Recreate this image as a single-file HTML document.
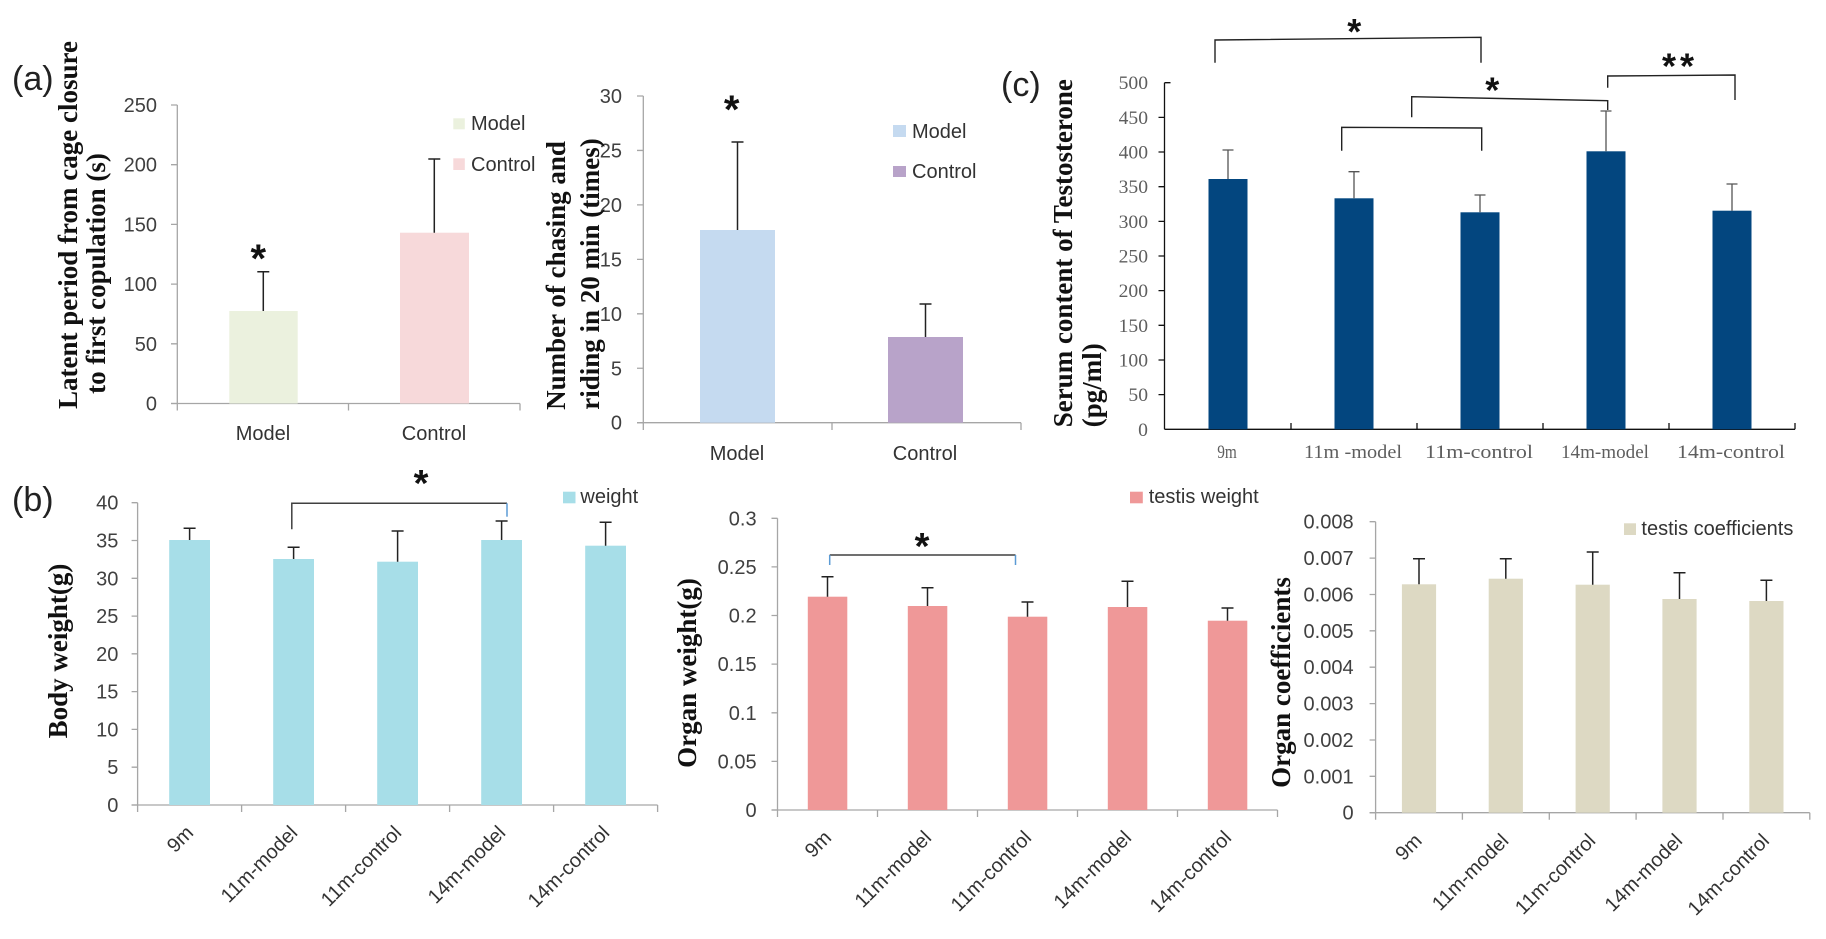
<!DOCTYPE html>
<html><head><meta charset="utf-8"><style>html,body{margin:0;padding:0;background:#fff;}svg{display:block;}</style></head>
<body>
<svg width="1826" height="939" viewBox="0 0 1826 939" xmlns="http://www.w3.org/2000/svg" font-family="Liberation Sans, sans-serif">
<rect width="1826" height="939" fill="#fff"/>

<!-- Panel labels -->
<g font-size="34" fill="#222">
<text x="12" y="90">(a)</text>
<text x="12" y="511">(b)</text>
<text x="1001" y="96">(c)</text>
</g>

<!-- ===== (a) left ===== -->
<g stroke="#a6a6a6" stroke-width="1.3" fill="none">
<line x1="177.3" y1="105" x2="177.3" y2="403.5"/>
<path d="M171,105H177.3M171,164.7H177.3M171,224.4H177.3M171,284.1H177.3M171,343.8H177.3M171,403.5H177.3"/>
<line x1="171" y1="403.5" x2="520" y2="403.5"/>
<path d="M177.3,403.5V410.5M348.5,403.5V410.5M520,403.5V410.5"/>
</g>
<g font-size="20" fill="#404040" text-anchor="end">
<text x="157" y="112">250</text><text x="157" y="171.7">200</text><text x="157" y="231.4">150</text>
<text x="157" y="291.1">100</text><text x="157" y="350.8">50</text><text x="157" y="410.5">0</text>
</g>
<rect x="229.3" y="311" width="68.4" height="92.5" fill="#ebf1de"/>
<rect x="400" y="232.7" width="69" height="170.8" fill="#f7d9da"/>
<path d="M263.3,311V271.7M257.3,271.7H269.3M434.3,232.7V159M428.3,159H440.3" stroke="#222" stroke-width="1.5" fill="none"/>
<text x="258.3" y="272" text-anchor="middle" font-size="40" font-weight="bold" fill="#111">*</text>
<rect x="453.3" y="118.3" width="11.5" height="11" fill="#ebf1de"/>
<rect x="453.3" y="158.3" width="11.5" height="11.7" fill="#f7d9da"/>
<g font-size="20" fill="#333">
<text x="471" y="130">Model</text><text x="471" y="171">Control</text>
</g>
<g font-size="20" fill="#333" text-anchor="middle">
<text x="263" y="440">Model</text><text x="434" y="440">Control</text>
</g>
<g font-family="Liberation Serif, serif" font-weight="bold" font-size="27" fill="#111" text-anchor="middle">
<text transform="translate(77,225) rotate(-90)">Latent period from cage closure</text>
<text transform="translate(105,273.5) rotate(-90)">to first copulation (s)</text>
</g>

<!-- ===== (a) right ===== -->
<g stroke="#a6a6a6" stroke-width="1.3" fill="none">
<line x1="643.3" y1="96" x2="643.3" y2="422.7"/>
<path d="M637,96H643.3M637,150.45H643.3M637,204.9H643.3M637,259.35H643.3M637,313.8H643.3M637,368.25H643.3M637,422.7H643.3"/>
<line x1="637" y1="422.7" x2="1021" y2="422.7"/>
<path d="M643.3,422.7V430M832,422.7V430M1021,422.7V430"/>
</g>
<g font-size="20" fill="#404040" text-anchor="end">
<text x="622" y="103">30</text><text x="622" y="157.5">25</text><text x="622" y="212">20</text>
<text x="622" y="266.4">15</text><text x="622" y="320.8">10</text><text x="622" y="375.3">5</text><text x="622" y="429.7">0</text>
</g>
<rect x="700" y="230" width="75" height="192.7" fill="#c5daf0"/>
<rect x="888" y="337" width="75" height="85.7" fill="#b8a3c9"/>
<path d="M737.5,230V142M731.5,142H743.5M925.5,337V304M919.5,304H931.5" stroke="#222" stroke-width="1.5" fill="none"/>
<text x="731.7" y="123" text-anchor="middle" font-size="40" font-weight="bold" fill="#111">*</text>
<rect x="893" y="125" width="13" height="12" fill="#c5daf0"/>
<rect x="893" y="166" width="13" height="11" fill="#b8a3c9"/>
<g font-size="20" fill="#333">
<text x="912" y="138">Model</text><text x="912" y="178">Control</text>
</g>
<g font-size="20" fill="#333" text-anchor="middle">
<text x="737" y="460">Model</text><text x="925" y="460">Control</text>
</g>
<g font-family="Liberation Serif, serif" font-weight="bold" font-size="27" fill="#111" text-anchor="middle">
<text transform="translate(565,275.5) rotate(-90)">Number of chasing and</text>
<text transform="translate(599,274) rotate(-90)">riding in 20 min (times)</text>
</g>

<!-- ===== (c) ===== -->
<g stroke="#111" stroke-width="1.3" fill="none">
<line x1="1164.5" y1="82.7" x2="1164.5" y2="429.3"/>
<path d="M1164.5,82.7H1170.5M1158.5,117.36H1164.5M1158.5,152.02H1164.5M1158.5,186.68H1164.5M1158.5,221.34H1164.5M1158.5,256H1164.5M1158.5,290.66H1164.5M1158.5,325.32H1164.5M1158.5,359.98H1164.5M1158.5,394.64H1164.5"/>
<line x1="1164.5" y1="429.3" x2="1795" y2="429.3"/>
<path d="M1291,423V429.3M1417,423V429.3M1543,423V429.3M1669,423V429.3M1795,423V429.3"/>
</g>
<g font-family="Liberation Serif, serif" font-size="19" fill="#5e5e5e" text-anchor="end" lengthAdjust="spacingAndGlyphs">
<text x="1148" y="89.2" textLength="29.4" lengthAdjust="spacingAndGlyphs">500</text>
<text x="1148" y="123.9" textLength="29.4" lengthAdjust="spacingAndGlyphs">450</text>
<text x="1148" y="158.5" textLength="29.4" lengthAdjust="spacingAndGlyphs">400</text>
<text x="1148" y="193.2" textLength="29.4" lengthAdjust="spacingAndGlyphs">350</text>
<text x="1148" y="227.8" textLength="29.4" lengthAdjust="spacingAndGlyphs">300</text>
<text x="1148" y="262.5" textLength="29.4" lengthAdjust="spacingAndGlyphs">250</text>
<text x="1148" y="297.2" textLength="29.4" lengthAdjust="spacingAndGlyphs">200</text>
<text x="1148" y="331.8" textLength="29.4" lengthAdjust="spacingAndGlyphs">150</text>
<text x="1148" y="366.5" textLength="29.4" lengthAdjust="spacingAndGlyphs">100</text>
<text x="1148" y="401.1" textLength="19.6" lengthAdjust="spacingAndGlyphs">50</text>
<text x="1148" y="435.8" textLength="9.8" lengthAdjust="spacingAndGlyphs">0</text>
</g>
<g fill="#03467f">
<rect x="1208.5" y="179" width="39" height="250.3"/>
<rect x="1334.5" y="198.3" width="39" height="231"/>
<rect x="1460.5" y="212.3" width="39" height="217"/>
<rect x="1586.5" y="151.3" width="39" height="278"/>
<rect x="1712.5" y="210.7" width="39" height="218.6"/>
</g>
<path d="M1228,179V150M1222.5,150H1233.5M1354,198.3V171.7M1348.5,171.7H1359.5M1480,212.3V195M1474.5,195H1485.5M1606,151.3V111M1600.5,111H1611.5M1732,210.7V184M1726.5,184H1737.5" stroke="#555" stroke-width="1.3" fill="none"/>
<g stroke="#222" stroke-width="1.4" fill="none">
<path d="M1215,62.7V40L1481,37.3V62.7"/>
<path d="M1341.7,150.7V127.3L1481.7,128V150.7"/>
<path d="M1411.7,117.3V96.7L1607.7,100.7V110"/>
<path d="M1607.7,87.7V76L1735,75V100"/>
</g>
<g font-size="36" font-weight="bold" fill="#111" text-anchor="middle">
<text x="1354.3" y="44">*</text>
<text x="1492.3" y="102.5">*</text>
<text x="1680" y="78.5" letter-spacing="4">**</text>
</g>
<g font-family="Liberation Serif, serif" font-size="19" fill="#5e5e5e" text-anchor="middle">
<text x="1227" y="458" textLength="19.6" lengthAdjust="spacingAndGlyphs">9m</text>
<text x="1353" y="458" textLength="98" lengthAdjust="spacingAndGlyphs">11m -model</text>
<text x="1479" y="458" textLength="108" lengthAdjust="spacingAndGlyphs">11m-control</text>
<text x="1605" y="458" textLength="88" lengthAdjust="spacingAndGlyphs">14m-model</text>
<text x="1731" y="458" textLength="108" lengthAdjust="spacingAndGlyphs">14m-control</text>
</g>
<g font-family="Liberation Serif, serif" font-weight="bold" font-size="27" fill="#111">
<text transform="translate(1072,427.3) rotate(-90)">Serum content of Testosterone</text>
<text transform="translate(1101,427.3) rotate(-90)">(pg/ml)</text>
</g>

<!-- ===== (b) 1 ===== -->
<g stroke="#a6a6a6" stroke-width="1.3" fill="none">
<line x1="137.6" y1="502.7" x2="137.6" y2="805"/>
<path d="M131.6,502.7H137.6M131.6,540.5H137.6M131.6,578.3H137.6M131.6,616.1H137.6M131.6,653.8H137.6M131.6,691.6H137.6M131.6,729.4H137.6M131.6,767.2H137.6M131.6,805H137.6"/>
<line x1="131.6" y1="805" x2="657.6" y2="805"/>
<path d="M137.6,805V812M241.6,805V812M345.6,805V812M449.6,805V812M553.6,805V812M657.6,805V812"/>
</g>
<g font-size="20" fill="#404040" text-anchor="end">
<text x="118.4" y="509.7">40</text><text x="118.4" y="547.5">35</text><text x="118.4" y="585.3">30</text>
<text x="118.4" y="623.1">25</text><text x="118.4" y="660.8">20</text><text x="118.4" y="698.6">15</text>
<text x="118.4" y="736.4">10</text><text x="118.4" y="774.2">5</text><text x="118.4" y="812">0</text>
</g>
<g fill="#a7dee8">
<rect x="169.2" y="540" width="40.8" height="265"/>
<rect x="273.2" y="559" width="40.8" height="246"/>
<rect x="377.2" y="561.7" width="40.8" height="243.3"/>
<rect x="481.2" y="540" width="40.8" height="265"/>
<rect x="585.2" y="545.7" width="40.8" height="259.3"/>
</g>
<path d="M189.6,540V528.3M183.6,528.3H195.6M293.6,559V547.3M287.6,547.3H299.6M397.6,561.7V531M391.6,531H403.6M501.6,540V521M495.6,521H507.6M605.6,545.7V522.3M599.6,522.3H611.6" stroke="#222" stroke-width="1.5" fill="none"/>
<path d="M291.8,529.3V503.3H507" stroke="#404040" stroke-width="1.5" fill="none"/>
<path d="M507,503.3V516.7" stroke="#5b9bd5" stroke-width="1.5" fill="none"/>
<text x="421" y="496" text-anchor="middle" font-size="38" font-weight="bold" fill="#111">*</text>
<rect x="563" y="491.7" width="12.5" height="11.6" fill="#a7dee8"/>
<text x="580.4" y="503" font-size="20" fill="#333">weight</text>
<g font-size="20" fill="#333" text-anchor="end">
<text transform="translate(194.6,834) rotate(-45)">9m</text>
<text transform="translate(298.6,834) rotate(-45)">11m-model</text>
<text transform="translate(402.6,834) rotate(-45)">11m-control</text>
<text transform="translate(506.6,834) rotate(-45)">14m-model</text>
<text transform="translate(610.6,834) rotate(-45)">14m-control</text>
</g>
<text transform="translate(67,651) rotate(-90)" text-anchor="middle" font-family="Liberation Serif, serif" font-weight="bold" font-size="27" fill="#111">Body weight(g)</text>

<!-- ===== (b) 2 ===== -->
<g stroke="#a6a6a6" stroke-width="1.3" fill="none">
<line x1="777.5" y1="518.3" x2="777.5" y2="810"/>
<path d="M771.5,518.3H777.5M771.5,566.9H777.5M771.5,615.5H777.5M771.5,664.1H777.5M771.5,712.8H777.5M771.5,761.4H777.5M771.5,810H777.5"/>
<line x1="771.5" y1="810" x2="1277.5" y2="810"/>
<path d="M777.5,810V817M877.5,810V817M977.5,810V817M1077.5,810V817M1177.5,810V817M1277.5,810V817"/>
</g>
<g font-size="20" fill="#404040" text-anchor="end">
<text x="756.6" y="525.3">0.3</text><text x="756.6" y="573.9">0.25</text><text x="756.6" y="622.5">0.2</text>
<text x="756.6" y="671.1">0.15</text><text x="756.6" y="719.8">0.1</text><text x="756.6" y="768.4">0.05</text>
<text x="756.6" y="817">0</text>
</g>
<g fill="#ef9898">
<rect x="807.8" y="596.7" width="39.5" height="213.3"/>
<rect x="907.8" y="606" width="39.5" height="204"/>
<rect x="1007.8" y="616.7" width="39.5" height="193.3"/>
<rect x="1107.8" y="607" width="39.5" height="203"/>
<rect x="1207.8" y="620.7" width="39.5" height="189.3"/>
</g>
<path d="M827.5,596.7V576.7M821.5,576.7H833.5M927.5,606V587.7M921.5,587.7H933.5M1027.5,616.7V602M1021.5,602H1033.5M1127.5,607V581.3M1121.5,581.3H1133.5M1227.5,620.7V608M1221.5,608H1233.5" stroke="#222" stroke-width="1.5" fill="none"/>
<path d="M829.7,555H1015.5" stroke="#404040" stroke-width="1.5" fill="none"/>
<path d="M829.7,555V565M1015.5,555V565" stroke="#5b9bd5" stroke-width="1.5" fill="none"/>
<text x="922" y="559" text-anchor="middle" font-size="38" font-weight="bold" fill="#111">*</text>
<rect x="1130" y="491.7" width="12.8" height="11.6" fill="#ef9898"/>
<text x="1148.7" y="503" font-size="20" fill="#333">testis weight</text>
<g font-size="20" fill="#333" text-anchor="end">
<text transform="translate(832.5,839) rotate(-45)">9m</text>
<text transform="translate(932.5,839) rotate(-45)">11m-model</text>
<text transform="translate(1032.5,839) rotate(-45)">11m-control</text>
<text transform="translate(1132.5,839) rotate(-45)">14m-model</text>
<text transform="translate(1232.5,839) rotate(-45)">14m-control</text>
</g>
<text transform="translate(696,673) rotate(-90)" text-anchor="middle" font-family="Liberation Serif, serif" font-weight="bold" font-size="27" fill="#111">Organ weight(g)</text>

<!-- ===== (b) 3 ===== -->
<g stroke="#a6a6a6" stroke-width="1.3" fill="none">
<line x1="1375.6" y1="521.7" x2="1375.6" y2="812.7"/>
<path d="M1369.6,521.7H1375.6M1369.6,558.1H1375.6M1369.6,594.5H1375.6M1369.6,630.8H1375.6M1369.6,667.2H1375.6M1369.6,703.6H1375.6M1369.6,740H1375.6M1369.6,776.3H1375.6M1369.6,812.7H1375.6"/>
<line x1="1369.6" y1="812.7" x2="1809.8" y2="812.7"/>
<path d="M1375.6,812.7V819.7M1462.4,812.7V819.7M1549.3,812.7V819.7M1636.1,812.7V819.7M1723,812.7V819.7M1809.8,812.7V819.7"/>
</g>
<g font-size="20" fill="#404040" text-anchor="end">
<text x="1353.6" y="528.7">0.008</text><text x="1353.6" y="565.1">0.007</text><text x="1353.6" y="601.5">0.006</text>
<text x="1353.6" y="637.8">0.005</text><text x="1353.6" y="674.2">0.004</text><text x="1353.6" y="710.6">0.003</text>
<text x="1353.6" y="747">0.002</text><text x="1353.6" y="783.3">0.001</text><text x="1353.6" y="819.7">0</text>
</g>
<g fill="#ddd9c3">
<rect x="1401.9" y="584.3" width="34.2" height="228.4"/>
<rect x="1488.7" y="578.7" width="34.2" height="234"/>
<rect x="1575.6" y="584.7" width="34.2" height="228"/>
<rect x="1662.4" y="599" width="34.2" height="213.7"/>
<rect x="1749.3" y="601" width="34.2" height="211.7"/>
</g>
<path d="M1419,584.3V558.7M1413,558.7H1425M1505.8,578.7V558.7M1499.8,558.7H1511.8M1592.7,584.7V552M1586.7,552H1598.7M1679.5,599V572.7M1673.5,572.7H1685.5M1766.4,601V580.3M1760.4,580.3H1772.4" stroke="#222" stroke-width="1.5" fill="none"/>
<rect x="1624" y="523.3" width="12" height="11.7" fill="#ddd9c3"/>
<text x="1641.4" y="535" font-size="20" fill="#333">testis coefficients</text>
<g font-size="20" fill="#333" text-anchor="end">
<text transform="translate(1423,842) rotate(-45)">9m</text>
<text transform="translate(1509.8,842) rotate(-45)">11m-model</text>
<text transform="translate(1596.7,842) rotate(-45)">11m-control</text>
<text transform="translate(1683.5,842) rotate(-45)">14m-model</text>
<text transform="translate(1770.4,842) rotate(-45)">14m-control</text>
</g>
<text transform="translate(1290,682.5) rotate(-90)" text-anchor="middle" font-family="Liberation Serif, serif" font-weight="bold" font-size="27" fill="#111">Organ coefficients</text>

</svg>
</body></html>
